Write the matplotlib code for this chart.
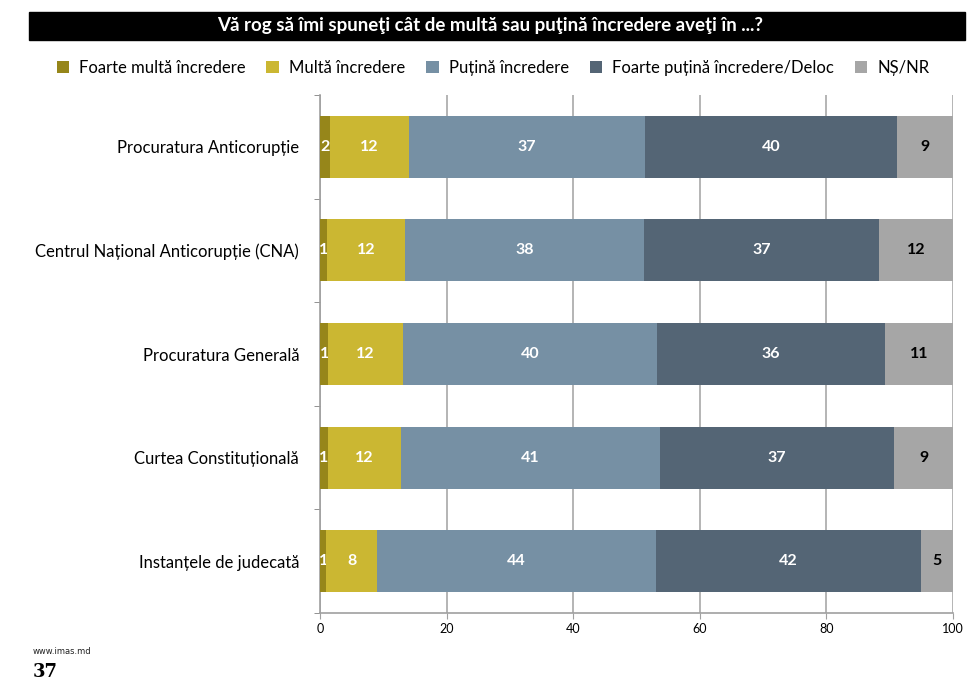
import matplotlib
matplotlib.use("Agg")
import matplotlib.pyplot as plt
import numpy as np
from matplotlib.patches import Rectangle

plt.rcParams["font.family"] = ["Lato", "DejaVu Sans"]

categories = ["Procuratura Anticorupție", "Centrul Național Anticorupție (CNA)",
              "Procuratura Generală", "Curtea Constituțională", "Instanțele de judecată"]
series_names = ["Foarte multă încredere", "Multă încredere", "Puțină încredere",
                "Foarte puțină încredere/Deloc", "NȘ/NR"]
foarte_multa = [1.6, 1.1, 1.3, 1.2, 1.0]
multa = [12.4, 12.4, 11.8, 11.6, 8.0]
putina = [37.4, 37.7, 40.1, 40.9, 44.1]
foarte_putina = [39.8, 37.1, 36.1, 37.0, 41.9]
ns_nr = [8.8, 11.7, 10.7, 9.3, 5.0]
series = [foarte_multa, multa, putina, foarte_putina, ns_nr]

colors = ["#96861A", "#CBB732", "#7690A4", "#546575", "#A6A6A6"]
label_colors = ["white", "white", "white", "white", "black"]

fig = plt.figure(figsize=(9.8, 6.9), dpi=100)
ax = fig.add_axes([0.3265, 0.1116, 0.6459, 0.7507])

y = np.arange(len(categories))
left = np.zeros(len(categories))
for vals, name, c, lc in zip(series, series_names, colors, label_colors):
    bars = ax.barh(y, vals, left=left, height=0.6, color=c, label=name, zorder=3)
    ax.bar_label(bars, labels=[f"{v:.0f}" for v in vals], label_type="center",
                 color=lc, fontsize=11.5, fontweight="bold")
    left += np.array(vals)

ax.set_xlim(0, 100)
ax.set_ylim(len(categories) - 0.5, -0.5)
ax.set_xticks([0, 20, 40, 60, 80, 100])
ax.tick_params(axis="x", labelsize=9, length=4, color="#A0A0A0")
ax.set_yticks(y)
ax.set_yticklabels(categories, fontsize=12)
ax.tick_params(axis="y", which="major", length=0, pad=15)
ax.set_yticks(np.arange(-0.5, len(categories), 1.0), minor=True)
ax.tick_params(axis="y", which="minor", length=4, color="#808080")
ax.grid(axis="x", color="#A8A8A8", lw=1.2, zorder=0)
for s in ("top", "right"):
    ax.spines[s].set_visible(False)
for s in ("left", "bottom"):
    ax.spines[s].set_color("#A0A0A0")
    ax.spines[s].set_linewidth(1.2)

# title band
fig.patches.append(Rectangle((29 / 980, 1 - 40 / 690), 936 / 980, 28 / 690,
                             transform=fig.transFigure, color="black", zorder=0))
fig.text(0.5, 1 - 26 / 690, "Vă rog să îmi spuneţi cât de multă sau puţină încredere aveţi în ...?",
         color="white", fontsize=13.5, fontweight="bold", ha="center", va="center")

fig.legend(loc="center", bbox_to_anchor=(0.503, 1 - 68 / 690), ncol=5, frameon=False,
           fontsize=12, handlelength=0.75, handleheight=0.75, handletextpad=0.6,
           columnspacing=1.25)

fig.text(33 / 980, 1 - 651 / 690, "www.imas.md", fontsize=6, color="#222222",
         family=["DejaVu Sans"], va="center")
fig.text(33 / 980, 1 - 672 / 690, "37", fontsize=13, fontweight="bold",
         family=["DejaVu Serif"], va="center")

fig.savefig("out.png", dpi=100, facecolor="white")
